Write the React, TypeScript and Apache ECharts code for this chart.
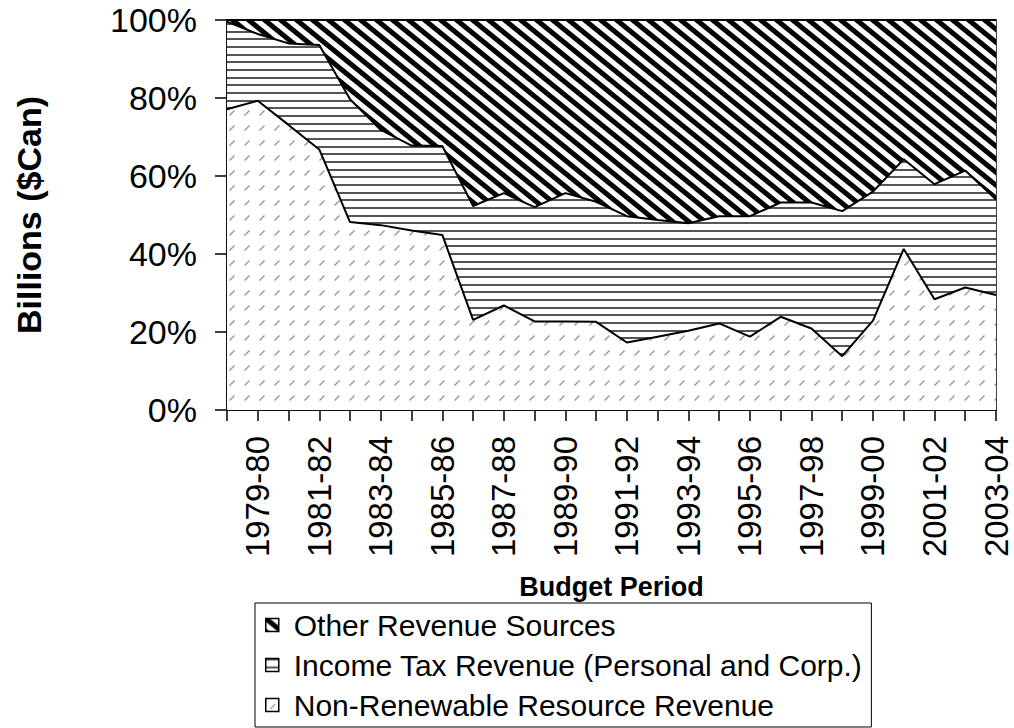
import React, { useEffect, useRef } from "react";
import * as echarts from "echarts";

const categories = [
  "1978-79", "1979-80", "1980-81", "1981-82", "1982-83", "1983-84", "1984-85",
  "1985-86", "1986-87", "1987-88", "1988-89", "1989-90", "1990-91", "1991-92",
  "1992-93", "1993-94", "1994-95", "1995-96", "1996-97", "1997-98", "1998-99",
  "1999-00", "2000-01", "2001-02", "2002-03", "2003-04",
];

// shares of total revenue (%)
const nonRenewable = [77.1, 79.3, 73.1, 66.8, 48.2, 47.4, 46.0, 44.9, 23.1, 26.8, 22.7, 22.7, 22.6, 17.3, 18.8, 20.3, 22.2, 18.8, 23.9, 20.9, 13.8, 22.9, 41.3, 28.4, 31.4, 29.5];
const incomeTax = [22.5, 17.1, 20.9, 26.8, 31.5, 24.4, 21.8, 22.8, 29.2, 28.8, 29.3, 32.9, 30.8, 32.4, 29.9, 27.6, 27.5, 30.9, 29.3, 32.3, 37.2, 33.1, 23.0, 29.5, 30.0, 24.5];
const otherRevenue = [0.4, 3.6, 6.0, 6.4, 20.3, 28.2, 32.2, 32.3, 47.7, 44.4, 48.0, 44.4, 46.6, 50.3, 51.3, 52.1, 50.3, 50.3, 46.8, 46.8, 49.0, 44.0, 35.7, 42.1, 38.6, 46.0];

const yTicks = [0, 20, 40, 60, 80, 100];

const seriesNames = [
  "Non-Renewable Resource Revenue",
  "Income Tax Revenue (Personal and Corp.)",
  "Other Revenue Sources",
];

const FONT = "'Liberation Sans', Arial, sans-serif";

function makePattern(w: number, h: number, draw: (ctx: CanvasRenderingContext2D) => void) {
  const c = document.createElement("canvas");
  c.width = w;
  c.height = h;
  const ctx = c.getContext("2d") as CanvasRenderingContext2D;
  ctx.fillStyle = "#ffffff";
  ctx.fillRect(0, 0, w, h);
  draw(ctx);
  return { image: c, repeat: "repeat", imageWidth: w, imageHeight: h } as any;
}

export default function App() {
  const ref = useRef<HTMLDivElement>(null);

  useEffect(() => {
    if (!ref.current) return;
    const chart = echarts.init(ref.current, undefined, { renderer: "svg" });

    const W = 16, H = 13;
    const diagonal = makePattern(W, H, (ctx) => {
      ctx.strokeStyle = "#000000";
      ctx.lineWidth = 5;
      for (let k = -3; k <= 3; k++) {
        ctx.beginPath();
        ctx.moveTo(-2 * W, k * H - 2 * H);
        ctx.lineTo(3 * W, k * H + 3 * H);
        ctx.stroke();
      }
    });
    const horizontal = makePattern(4, 23, (ctx) => {
      ctx.fillStyle = "#555555";
      ctx.fillRect(0, 0, 4, 2);
      ctx.fillRect(0, 8, 4, 2);
      ctx.fillRect(0, 15, 4, 2);
    });
    const dashes = makePattern(15, 15, (ctx) => {
      ctx.strokeStyle = "#999999";
      ctx.lineWidth = 1.5;
      ctx.beginPath();
      ctx.moveTo(4.5, 10.5);
      ctx.lineTo(9.5, 5.5);
      ctx.stroke();
    });

    const fills = [dashes, horizontal, diagonal];
    const values = [nonRenewable, incomeTax, otherRevenue];

    chart.setOption({
      animation: false,
      backgroundColor: "#ffffff",
      textStyle: { fontFamily: FONT, color: "#000" },
      grid: {
        left: 227,
        right: 18,
        top: 20,
        bottom: 318,
        show: true,
        borderColor: "#000",
        borderWidth: 1.5,
        backgroundColor: "transparent",
      },
      legend: {
        orient: "vertical",
        left: 255,
        top: 603,
        data: [seriesNames[2], seriesNames[1], seriesNames[0]],
        icon: "rect",
        itemWidth: 13,
        itemHeight: 13,
        itemGap: 10,
        padding: [7, 9, 7, 10],
        borderColor: "#000",
        borderWidth: 1,
        backgroundColor: "#fff",
        borderRadius: 0,
        selectedMode: false,
        itemStyle: { borderColor: "#000", borderWidth: 1.5 },
        textStyle: {
          fontFamily: FONT,
          fontSize: 30,
          lineHeight: 30,
          color: "#000",
          padding: [0, 0, 0, 10],
        },
      },
      xAxis: {
        type: "category",
        data: categories,
        boundaryGap: false,
        name: "Budget Period",
        nameLocation: "middle",
        nameGap: 163,
        nameTextStyle: { fontFamily: FONT, fontSize: 27, fontWeight: "bold", color: "#000" },
        axisLine: { lineStyle: { color: "#000", width: 1.5 } },
        axisTick: { show: true, interval: 0, length: 11, lineStyle: { color: "#000", width: 1.5 } },
        axisLabel: {
          interval: (idx: number) => idx % 2 === 1,
          rotate: 90,
          margin: 26,
          fontFamily: FONT,
          fontSize: 33,
          color: "#000",
        },
        splitLine: { show: false },
      },
      yAxis: {
        type: "value",
        min: yTicks[0],
        max: yTicks[yTicks.length - 1],
        interval: yTicks[1] - yTicks[0],
        name: "Billions ($Can)",
        nameLocation: "middle",
        nameGap: 181,
        nameTextStyle: { fontFamily: FONT, fontSize: 34, fontWeight: "bold", color: "#000" },
        axisLine: { show: true, lineStyle: { color: "#000", width: 1.5 } },
        axisTick: { show: true, length: 12, lineStyle: { color: "#000", width: 1.5 } },
        axisLabel: {
          formatter: "{value}%",
          margin: 30,
          fontFamily: FONT,
          fontSize: 34,
          color: "#000",
        },
        splitLine: { show: false },
      },
      series: seriesNames.map((name, i) => ({
        name,
        type: "line",
        stack: "total",
        data: values[i],
        symbol: "none",
        showSymbol: false,
        smooth: false,
        lineStyle: { color: "#000", width: 2 },
        itemStyle: { color: fills[i], borderColor: "#000", borderWidth: 1.5 },
        areaStyle: { color: fills[i], opacity: 1 },
        emphasis: { disabled: true },
        z: 2,
      })),
    });

    return () => chart.dispose();
  }, []);

  return (
    <div
      ref={ref}
      style={{ position: "fixed", left: 0, top: 0, width: 1014, height: 728, background: "#fff" }}
    />
  );
}
